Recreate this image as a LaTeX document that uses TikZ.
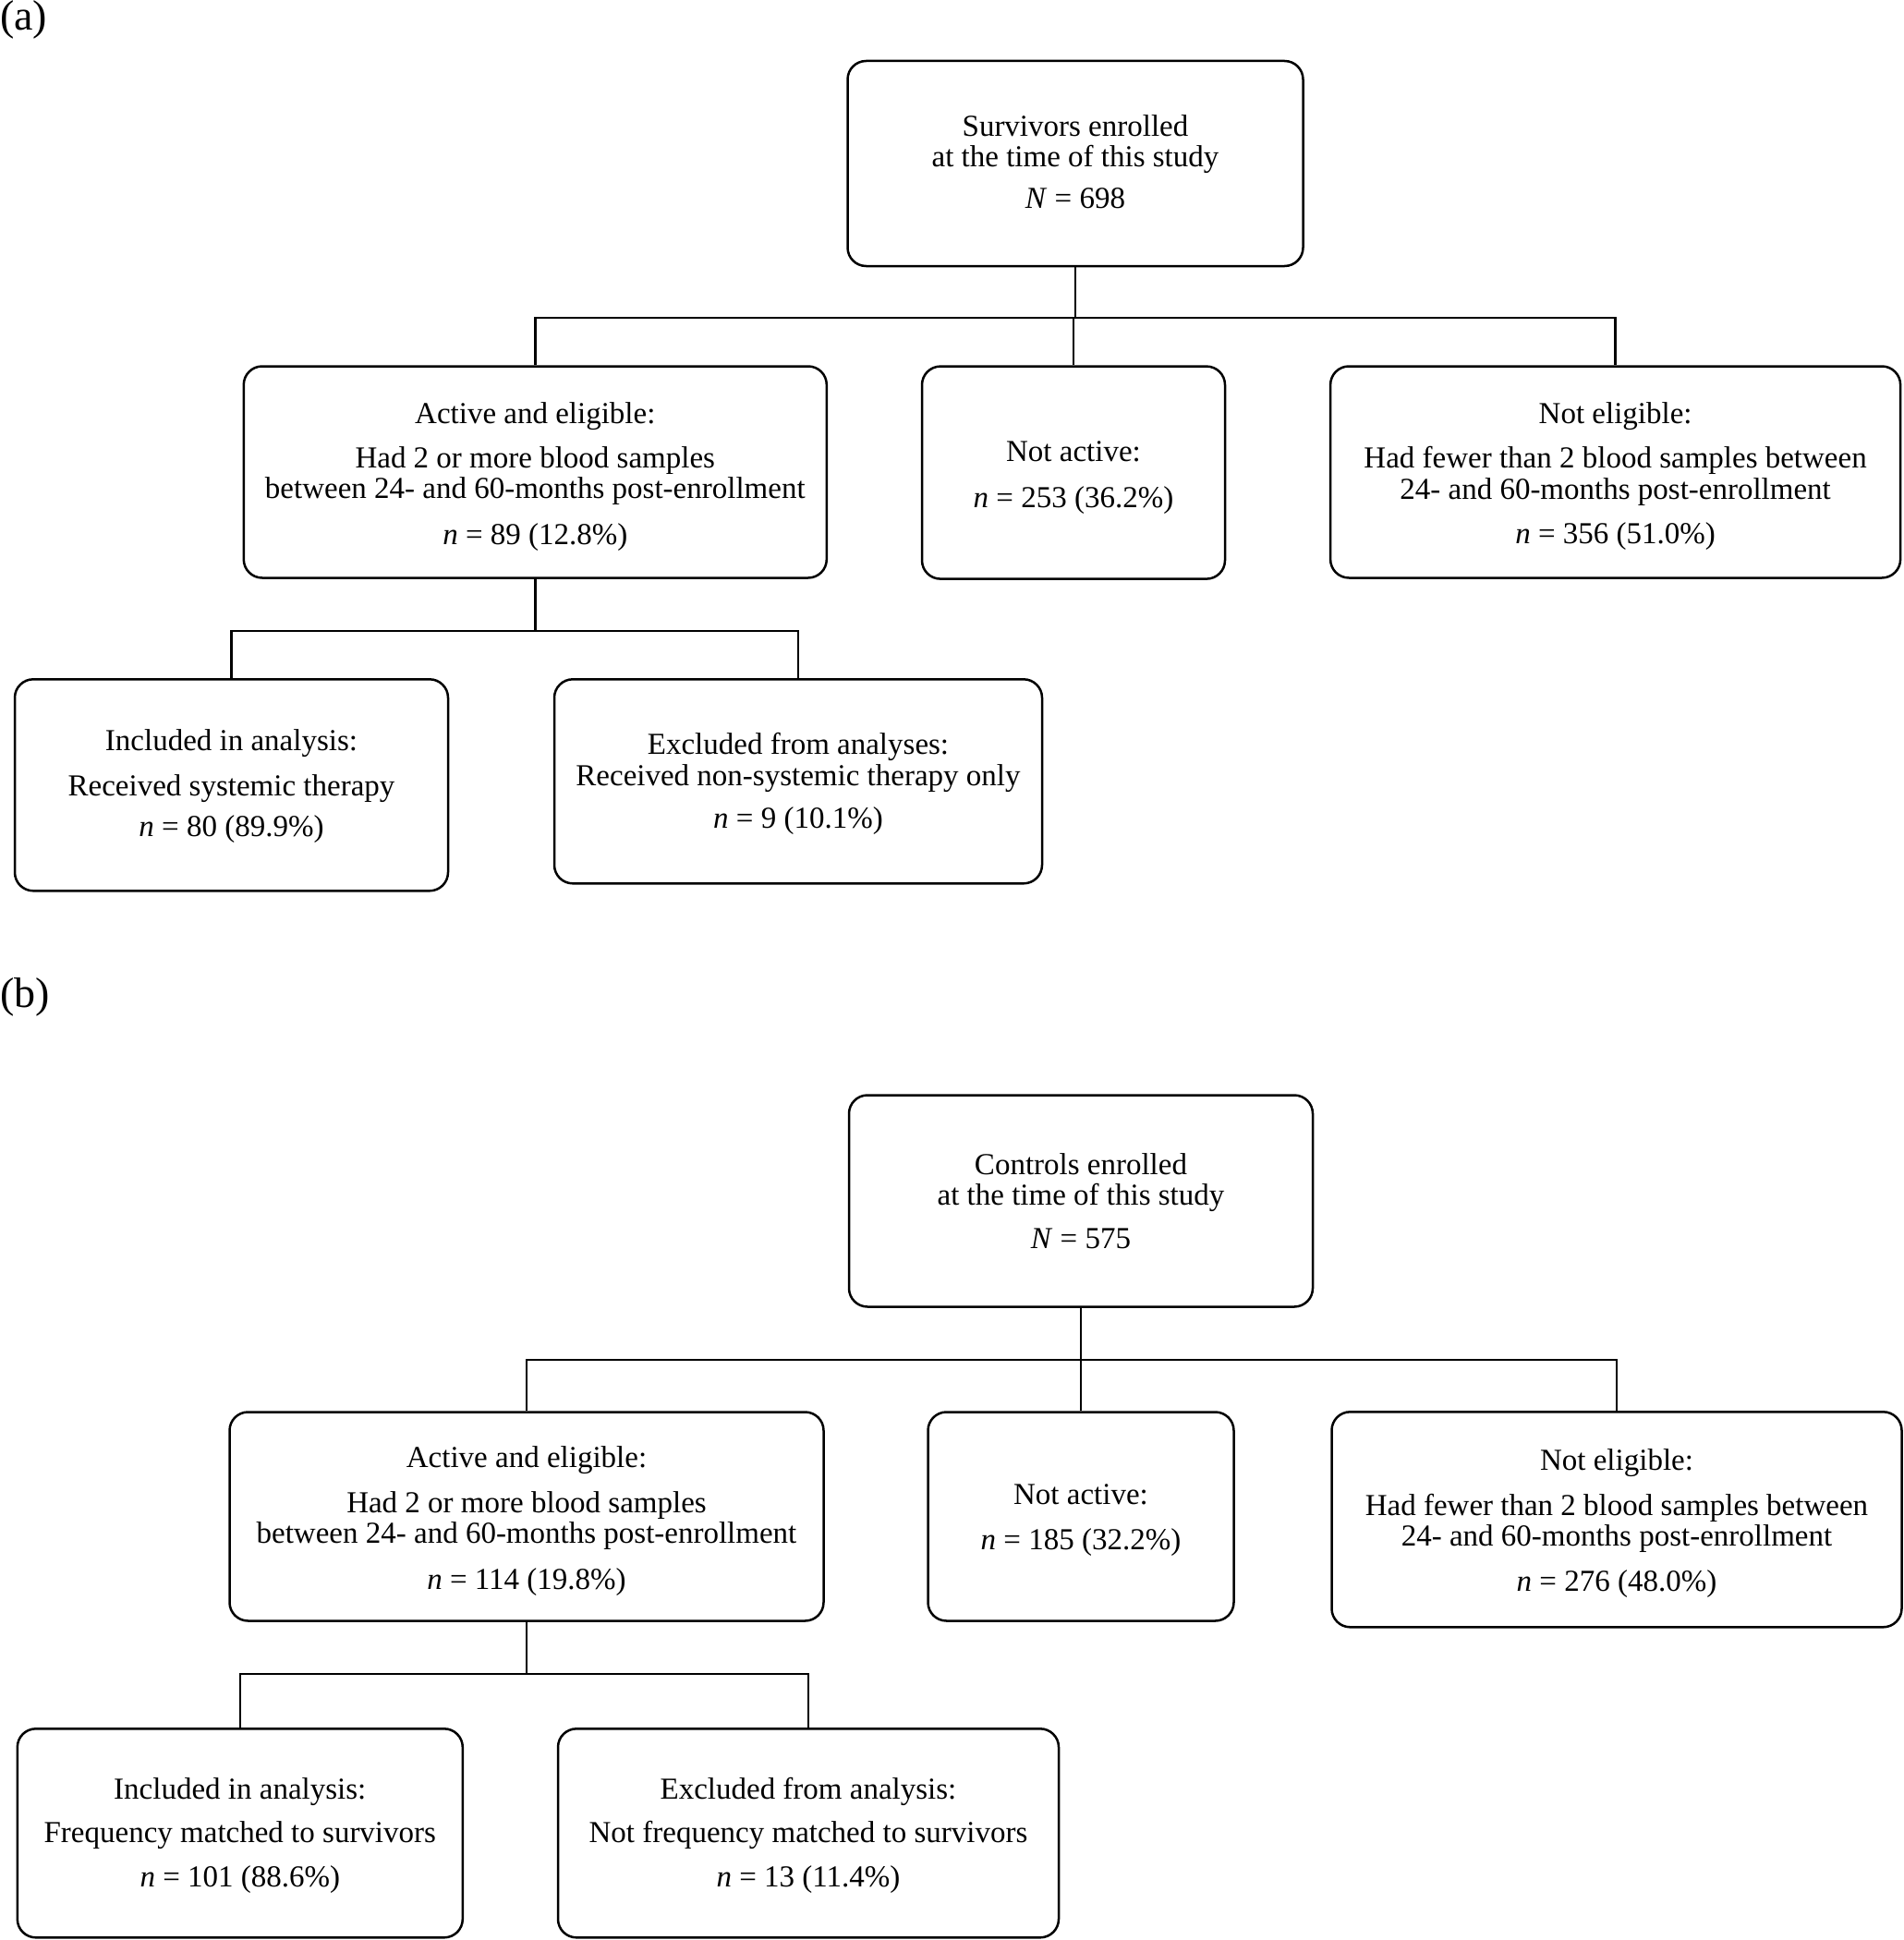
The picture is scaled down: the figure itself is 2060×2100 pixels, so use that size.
\documentclass[tikz,border=0pt]{standalone}
\usepackage{fontspec}
\setmainfont{Liberation Serif}
\newcommand\topgap[1]{\rule{0pt}{#1pt}}
\newcommand\botgap[1]{\rule[-#1pt]{0pt}{0pt}}
\begin{document}
\begin{tikzpicture}[x=1pt,y=-1pt,
  box/.style={draw, line width=2.5pt, rounded corners=20pt, inner sep=0pt, align=center,
    font=\fontsize{33}{33.5}\selectfont},
  link/.style={line width=2.5pt},
  panel/.style={anchor=north west, inner sep=0pt, font=\fontsize{46}{48}\selectfont}]
\useasboundingbox (0,0) rectangle (2060,2100);

% ---------- panel (a) ----------
\node[panel] (la) at (0,0) {(a)};
\node[box, minimum width=493pt, minimum height=222pt] (ta) at (1164,177)
  {Survivors enrolled\\ at the time of this study\\[11.5pt] \textit{N} = 698\botgap{4}};
\node[box, minimum width=631pt, minimum height=229pt] (a1) at (579.3,511)
  {\topgap{33}Active and eligible:\\[14pt] Had 2 or more blood samples\\ between 24- and 60-months post-enrollment\\[16pt] \textit{n} = 89 (12.8\%)};
\node[box, minimum width=328pt, minimum height=230pt] (a2) at (1162,511.6)
  {\topgap{33}Not active:\\[16pt] \textit{n} = 253 (36.2\%)};
\node[box, minimum width=617pt, minimum height=229pt] (a3) at (1748.6,511)
  {\topgap{32}Not eligible:\\[15pt] Had fewer than 2 blood samples between\\ 24- and 60-months post-enrollment\\[15pt] \textit{n} = 356 (51.0\%)};
\node[box, minimum width=469pt, minimum height=229pt] (a4) at (250.5,849.8)
  {\topgap{25.5}Included in analysis:\\[15pt] Received systemic therapy\\[11pt] \textit{n} = 80 (89.9\%)};
\node[box, minimum width=528pt, minimum height=221pt] (a5) at (864,845.8)
  {\topgap{28.5}Excluded from analyses:\\ Received non-systemic therapy only\\[13pt] \textit{n} = 9 (10.1\%)};

\coordinate (ya1) at (0,344);
\coordinate (ya2) at (0,683);
\draw[link] (ta.south) -- (ta.south |- ya1);
\draw[link] (a1.north) -- (a1.north |- ya1) -- (a3.north |- ya1) -- (a3.north);
\draw[link] (a2.north) -- (a2.north |- ya1);
\draw[link] (a1.south) -- (a1.south |- ya2);
\draw[link] (a4.north) -- (a4.north |- ya2) -- (a5.north |- ya2) -- (a5.north);

% ---------- panel (b) ----------
\node[panel] (lb) at (0,1058) {(b)};
\node[box, minimum width=502pt, minimum height=229pt] (tb) at (1170,1300)
  {Controls enrolled\\ at the time of this study\\[13pt] \textit{N} = 575};
\node[box, minimum width=643pt, minimum height=226pt] (b1) at (570,1641.5)
  {\topgap{33}Active and eligible:\\[15pt] Had 2 or more blood samples\\ between 24- and 60-months post-enrollment\\[16pt] \textit{n} = 114 (19.8\%)};
\node[box, minimum width=331pt, minimum height=226pt] (b2) at (1170,1641.5)
  {\topgap{30}Not active:\\[16pt] \textit{n} = 185 (32.2\%)};
\node[box, minimum width=617pt, minimum height=233pt] (b3) at (1750,1644.8)
  {\topgap{31}Not eligible:\\[15pt] Had fewer than 2 blood samples between\\ 24- and 60-months post-enrollment\\[15pt] \textit{n} = 276 (48.0\%)};
\node[box, minimum width=482pt, minimum height=226pt] (b4) at (259.8,1984.3)
  {\topgap{27.5}Included in analysis:\\[13.5pt] Frequency matched to survivors\\[14.5pt] \textit{n} = 101 (88.6\%)};
\node[box, minimum width=542pt, minimum height=226pt] (b5) at (875,1984.3)
  {\topgap{27.5}Excluded from analysis:\\[13.5pt] Not frequency matched to survivors\\[14.5pt] \textit{n} = 13 (11.4\%)};

\coordinate (yb1) at (0,1472);
\coordinate (yb2) at (0,1812);
\draw[link] (tb.south) -- (tb.south |- yb1);
\draw[link] (b1.north) -- (b1.north |- yb1) -- (b3.north |- yb1) -- (b3.north);
\draw[link] (b2.north) -- (b2.north |- yb1);
\draw[link] (b1.south) -- (b1.south |- yb2);
\draw[link] (b4.north) -- (b4.north |- yb2) -- (b5.north |- yb2) -- (b5.north);
\end{tikzpicture}
\end{document}
